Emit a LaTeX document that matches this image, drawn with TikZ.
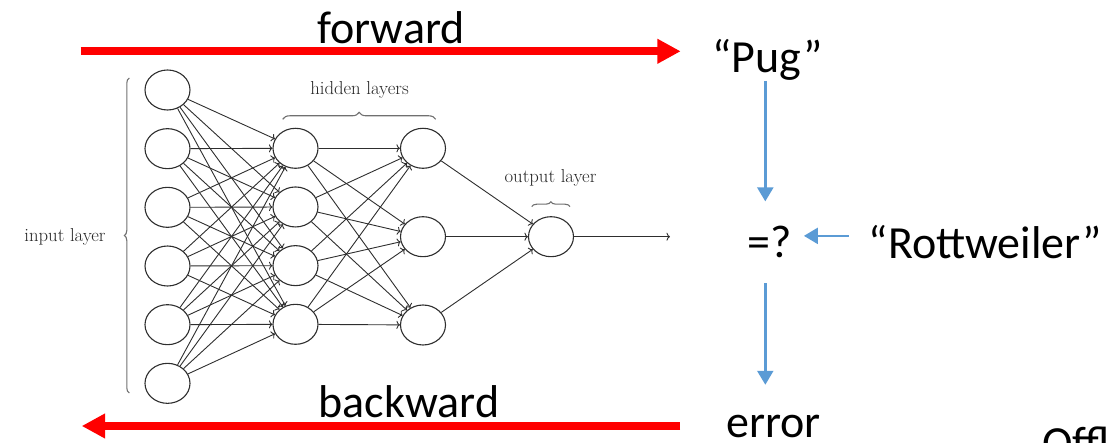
\documentclass[tikz,border=0pt]{standalone}
\usepackage{fontspec}
\newfontfamily\calib{Carlito}
\usetikzlibrary{arrows.meta,shapes.geometric,decorations.pathreplacing}
\definecolor{netgray}{HTML}{2E2E2E}
\definecolor{labelgray}{HTML}{262626}
\definecolor{bracegray}{HTML}{707070}
\definecolor{offblue}{HTML}{5B9BD5}
\begin{document}
\begin{tikzpicture}[x=1pt,y=-1pt,
  neuron/.style={ellipse, draw=netgray, line width=1.1pt, minimum width=45pt, minimum height=40pt, inner sep=0pt},
  conn/.style={draw=netgray, line width=0.9pt, -{To[length=3.5pt,width=8pt]}},
  netlabel/.style={text=labelgray, font=\fontsize{18.7}{22}\selectfont, inner sep=0pt, anchor=base},
  bigtext/.style={font=\calib\fontsize{46}{55}\selectfont, inner sep=0pt, anchor=base},
  redarrow/.style={draw=red, line width=7.7pt, -{Triangle[length=23.4pt,width=23.4pt]}},
  bluearrow/.style={draw=offblue, line width=2.4pt, -{Triangle[length=14pt,width=16pt]}},
  bracestyle/.style={draw=bracegray, line width=1.1pt, decorate, decoration={brace, amplitude=#1}},
]
\useasboundingbox (0,0) rectangle (1117,443);
\clip (0,0) rectangle (1117,443);

% neurons
\foreach \k in {1,...,6}{
  \node[neuron] (i\k) at (167.5,{90+58.67*(\k-1)}) {};
}
\foreach \k in {1,...,4}{
  \node[neuron] (h\k) at (295.5,{148.3+58.67*(\k-1)}) {};
}
\node[neuron] (g1) at (423,148.3) {};
\node[neuron] (g2) at (423,236.7) {};
\node[neuron] (g3) at (423,325) {};
\node[neuron] (o1) at (551,236.7) {};
\coordinate (oend) at (670,236.7);

% connections
\foreach \a in {1,...,6}{
  \foreach \b in {1,...,4}{
    \draw[conn] (i\a) -- (h\b);
  }
}
\foreach \a in {1,...,4}{
  \foreach \b in {1,2,3}{
    \draw[conn] (h\a) -- (g\b);
  }
}
\foreach \b in {1,2,3}{
  \draw[conn] (g\b) -- (o1);
}
\draw[conn] (o1) -- (oend);

% braces and labels
\draw[bracestyle=7] (282.7,119.3) -- (435.7,119.3);
\draw[bracestyle=5] (531.7,206.7) -- (570,206.7);
\draw[bracestyle=5] (129.3,393) -- (129.3,78);
\node[netlabel] (lhid) at (359.5,94.3) {hidden layers};
\node[netlabel] (lout) at (550.5,182.7) {output layer};
\node[netlabel] (linp) at (65,241.7) {input layer};

% forward / backward
\coordinate (fwdL) at (80.7,51.3);
\coordinate (fwdR) at (680.7,51.3);
\coordinate (bwdR) at (680,426);
\coordinate (bwdL) at (81.7,426);
\draw[redarrow] (fwdL) -- (fwdR);
\draw[redarrow] (bwdR) -- (bwdL);
\node[bigtext] (tfwd) at (391.2,43.3) {forward};
\node[bigtext] (tbwd) at (409,417.3) {backward};

% right side
\node[bigtext] (pug) at (767.5,72.7) {“Pug”};
\node[bigtext] (eq) at (770,258) {=?};
\node[bigtext] (rott) at (985.5,258.3) {“Rottweiler”};
\node[bigtext] (err) at (773.4,437.5) {error};
\node[bigtext, anchor=base west] (offl) at (1042,459) {Offl};

\draw[bluearrow, shorten >=25pt] (pug.south -| 765.3,0) -- (eq.north -| 765.3,0);
\draw[bluearrow, shorten <=24.7pt, shorten >=30.2pt] (eq.south -| 765.3,0) -- (err.north -| 765.3,0);
\draw[bluearrow, shorten <=20pt, shorten >=11.6pt] ([yshift=6pt]rott.west) -- ([yshift=6pt]rott.west -| eq.east);
\end{tikzpicture}
\end{document}
